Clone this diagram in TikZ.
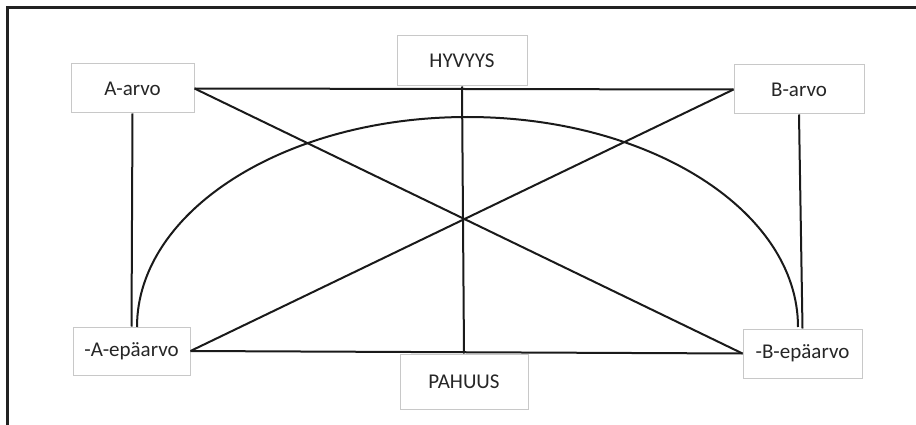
\documentclass[tikz,border=0pt]{standalone}
\usepackage{fontspec}
\setmainfont{Carlito}
\usepackage{tikz}
\usetikzlibrary{positioning}
\definecolor{framegray}{HTML}{222222}
\definecolor{boxgray}{HTML}{C8C8C8}
\definecolor{textgray}{HTML}{262626}
\definecolor{linegray}{HTML}{1A1A1A}

\begin{document}
\begin{tikzpicture}[
    x=1pt, y=-1pt,
    valuebox/.style={rectangle, draw=boxgray, line width=1pt, fill=white, minimum width=#1, align=center, font=\fontsize{21}{24}\selectfont, text=textgray, inner sep=0pt},
    link/.style={line width=2pt, color=linegray},
]
\useasboundingbox (0,0) rectangle (916,425);

% ─── Frame ───
\draw[line width=3pt, color=framegray] (7,425) -- (7,8) -- (916,8);

% ─── Boxes ───
\node[valuebox=123pt, minimum height=49pt] (aarvo) at (132.5,88.5) {A-arvo};
\node[valuebox=130pt, minimum height=50pt] (hyvyys) at (462,61) {HYVYYS};
\node[valuebox=130pt, minimum height=49pt] (barvo) at (799,89.5) {B-arvo};
\node[valuebox=117pt, minimum height=48pt] (aepa) at (131.5,351) {-A-epäarvo};
\node[valuebox=128pt, minimum height=55pt] (pahuus) at (464,381.5) {PAHUUS};
\node[valuebox=119pt, minimum height=49pt] (bepa) at (802.5,353.5) {-B-epäarvo};

% ─── Arc ends ───
\coordinate (arcleft) at (137,327);

% ─── Connectors ───
\draw[link] (aarvo.east) -- (barvo.west);
\draw[link] (aepa.east) -- (bepa.west);
\draw[link] (aarvo.east) -- (bepa.west);
\draw[link] (barvo.west) -- (aepa.east);
\draw[link] (hyvyys.south) -- (pahuus.north);
\draw[link] (aarvo.south) -- (aepa.north);
\draw[link] (barvo.south) -- (bepa.north);
\draw[link] (arcleft) arc[start angle=180, end angle=360, x radius=330.5, y radius=210];

\end{tikzpicture}
\end{document}
